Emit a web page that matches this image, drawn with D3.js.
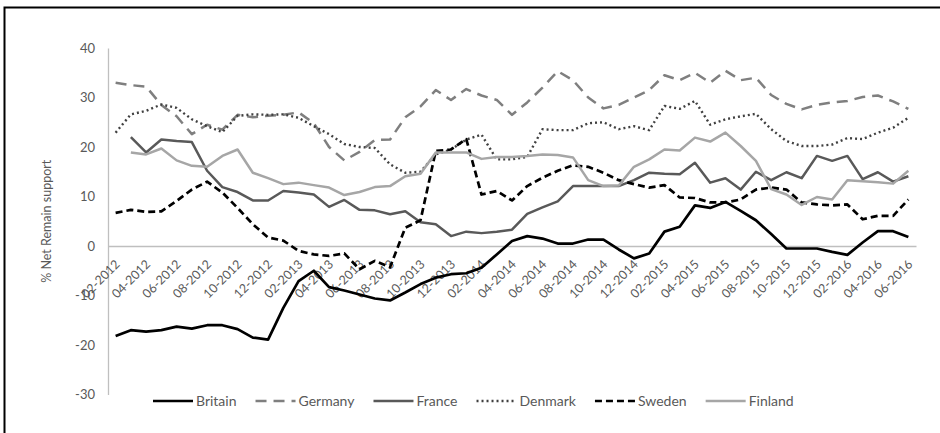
<!DOCTYPE html>
<html>
<head>
<meta charset="utf-8">
<script src="https://cdn.jsdelivr.net/npm/d3@7/dist/d3.min.js"></script>
<style>
  body { margin: 0; background: #fff; }
  svg text { font-family: Lato, "Open Sans", sans-serif; fill: #595959; }
</style>
</head>
<body>
<svg id="chart" width="940" height="433"></svg>
<script>
// monthly categories, Feb 2012 .. Jun 2016
var months = ["02-2012","03-2012","04-2012","05-2012","06-2012","07-2012","08-2012","09-2012","10-2012","11-2012","12-2012",
  "01-2013","02-2013","03-2013","04-2013","05-2013","06-2013","07-2013","08-2013","09-2013","10-2013","11-2013","12-2013",
  "01-2014","02-2014","03-2014","04-2014","05-2014","06-2014","07-2014","08-2014","09-2014","10-2014","11-2014","12-2014",
  "01-2015","02-2015","03-2015","04-2015","05-2015","06-2015","07-2015","08-2015","09-2015","10-2015","11-2015","12-2015",
  "01-2016","02-2016","03-2016","04-2016","05-2016","06-2016"];
var xTickLabels = ["02-2012","04-2012","06-2012","08-2012","10-2012","12-2012","02-2013","04-2013","06-2013","08-2013",
  "10-2013","12-2013","02-2014","04-2014","06-2014","08-2014","10-2014","12-2014","02-2015","04-2015","06-2015",
  "08-2015","10-2015","12-2015","02-2016","04-2016","06-2016"];
var yTicks = [-30, -20, -10, 0, 10, 20, 30, 40];

var britain = [-18.2, -17.0, -17.3, -17.0, -16.3, -16.7, -16.0, -16.0, -16.8, -18.5, -18.9, -12.5, -7.1, -5.0, -8.3, -9.0, -9.8, -10.6, -11.0, -9.4,
  -7.7, -6.4, -5.7, -5.5, -4.4, -1.7, 1.0, 2.0, 1.5, 0.5, 0.5, 1.3, 1.3, -0.7, -2.5, -1.5, 2.9, 3.9, 8.2, 7.7,
  8.9, 7.1, 5.2, 2.4, -0.5, -0.5, -0.5, -1.2, -1.8, 0.7, 3.0, 3.0, 1.8];
var germany = [33.0, 32.5, 32.2, 28.5, 26.2, 22.6, 24.5, 23.5, 26.5, 26.0, 26.3, 26.5, 27.0, 24.8, 20.0, 17.3, 19.0, 21.4, 21.5, 26.0,
  28.2, 31.5, 29.5, 31.7, 30.4, 29.5, 26.5, 29.0, 32.0, 35.3, 33.5, 30.0, 27.8, 28.5, 30.0, 31.5, 34.5, 33.5, 35.0, 33.0,
  35.4, 33.5, 34.0, 30.5, 28.7, 27.6, 28.5, 29.0, 29.3, 30.1, 30.4, 29.2, 27.7];
var france = [null, 22.0, 18.9, 21.5, 21.2, 21.0, 15.2, 11.9, 10.9, 9.2, 9.2, 11.1, 10.8, 10.4, 7.9, 9.3, 7.3, 7.2, 6.4, 7.0,
  4.8, 4.4, 2.0, 2.9, 2.6, 2.9, 3.3, 6.5, 7.8, 9.0, 12.1, 12.1, 12.1, 12.1, 13.3, 14.8, 14.6, 14.5, 16.8, 12.8,
  13.7, 11.4, 15.0, 13.3, 14.9, 13.7, 18.2, 17.2, 18.2, 13.5, 14.9, 13.0, 14.1];
var denmark = [22.9, 26.6, 27.3, 28.6, 27.9, 25.6, 24.2, 23.0, 26.3, 26.6, 26.5, 26.6, 25.9, 24.2, 22.6, 20.6, 20.0, 19.8, 16.5, 14.8,
  15.0, 18.5, 19.5, 21.5, 22.5, 17.5, 17.5, 18.0, 23.6, 23.4, 23.4, 24.8, 25.0, 23.6, 24.2, 23.4, 28.3, 27.7, 29.3, 24.5,
  25.6, 26.2, 26.7, 23.6, 21.2, 20.2, 20.2, 20.5, 21.8, 21.6, 22.9, 23.9, 25.9];
var sweden = [6.7, 7.3, 6.9, 7.0, 9.1, 11.4, 13.0, 10.8, 7.7, 4.4, 1.7, 1.1, -1.0, -1.7, -2.0, -1.5, -4.7, -3.0, -4.3, 3.7,
  5.2, 19.2, 19.5, 21.6, 10.4, 11.1, 9.2, 12.1, 13.8, 15.2, 16.3, 16.0, 14.8, 13.3, 12.5, 11.8, 12.3, 9.8, 9.7, 8.8,
  8.8, 9.4, 11.4, 11.8, 11.4, 8.8, 8.4, 8.2, 8.4, 5.4, 6.1, 6.1, 9.4];
var finland = [null, 18.9, 18.5, 19.7, 17.3, 16.2, 16.0, 18.2, 19.5, 14.8, 13.7, 12.5, 12.8, 12.3, 11.8, 10.3, 10.9, 11.9, 12.1, 14.1,
  14.6, 18.9, 18.9, 18.9, 17.6, 18.0, 18.0, 18.2, 18.5, 18.4, 17.9, 13.3, 12.1, 12.2, 16.0, 17.5, 19.5, 19.3, 21.9, 21.1,
  22.9, 20.2, 17.2, 11.5, 10.4, 8.3, 9.9, 9.4, 13.3, 13.1, 12.9, 12.6, 15.2];

var series = [
  { name: "Britain", values: britain },
  { name: "Germany", values: germany },
  { name: "France", values: france },
  { name: "Denmark", values: denmark },
  { name: "Sweden", values: sweden },
  { name: "Finland", values: finland }
];
var styles = {
  Britain: { color: "#000000", width: 2.7, dash: null },
  Germany: { color: "#7f7f7f", width: 2.5, dash: "11,7" },
  France:  { color: "#595959", width: 2.5, dash: null },
  Denmark: { color: "#404040", width: 2.4, dash: "2,3" },
  Sweden:  { color: "#000000", width: 2.7, dash: "7,4" },
  Finland: { color: "#a6a6a6", width: 2.5, dash: null }
};

var svg = d3.select("#chart");

// outer frame (right and bottom edges fall outside the picture)
svg.append("rect")
  .attr("x", 4.5).attr("y", 7.5).attr("width", 1000).attr("height", 1000)
  .attr("fill", "none").attr("stroke", "#000").attr("stroke-width", 2);

var x = d3.scaleBand().domain(months).range([108, 916]);
var y = d3.scaleLinear().domain([-30, 40]).range([394.5, 48]);
var xc = function (m) { return x(m) + x.bandwidth() / 2; };

// y axis
var yAxis = svg.append("g")
  .attr("transform", "translate(108,0)")
  .call(d3.axisLeft(y).tickValues(yTicks).tickSize(0).tickPadding(13).tickFormat(function (d) { return String(d); }));
yAxis.attr("font-family", null).attr("font-size", null);
yAxis.select(".domain").attr("stroke", "#bfbfbf").attr("stroke-width", 1.3);
yAxis.selectAll("text").style("font-size", "13px");

svg.append("text")
  .attr("transform", "translate(51," + ((y(40) + y(-30)) / 2) + ") rotate(-90)")
  .attr("text-anchor", "middle")
  .style("font-size", "12.5px")
  .text("% Net Remain support");

// category axis on the zero line
var xAxis = svg.append("g")
  .attr("transform", "translate(0," + y(0) + ")")
  .call(d3.axisBottom(x).tickValues(xTickLabels).tickSize(0));
xAxis.attr("font-family", null).attr("font-size", null);
xAxis.select(".domain").attr("stroke", "#bfbfbf").attr("stroke-width", 1.3);
xAxis.selectAll("text")
  .attr("x", null).attr("y", null).attr("dy", null)
  .attr("text-anchor", "end")
  .attr("transform", "translate(5,19) rotate(-45)")
  .style("font-size", "12.5px");

// series lines
var line = d3.line()
  .defined(function (d) { return d != null; })
  .x(function (d, i) { return xc(months[i]); })
  .y(function (d) { return y(d); });

svg.append("g").selectAll("path")
  .data(series)
  .enter().append("path")
  .attr("d", function (s) { return line(s.values); })
  .attr("fill", "none")
  .attr("stroke", function (s) { return styles[s.name].color; })
  .attr("stroke-width", function (s) { return styles[s.name].width; })
  .attr("stroke-dasharray", function (s) { return styles[s.name].dash; })
  .attr("stroke-linejoin", "round");

// legend
var legend = svg.append("g").attr("transform", "translate(0,401)");
var lx = 153;
series.forEach(function (s) {
  var st = styles[s.name];
  legend.append("line")
    .attr("x1", lx).attr("x2", lx + 40).attr("y1", 0).attr("y2", 0)
    .attr("stroke", st.color).attr("stroke-width", st.width)
    .attr("stroke-dasharray", st.dash);
  var t = legend.append("text")
    .attr("x", lx + 43).attr("y", 0).attr("dy", "0.35em")
    .style("font-size", "14px")
    .text(s.name);
  lx += 43 + t.node().getComputedTextLength() + 19;
});
</script>
</body>
</html>
